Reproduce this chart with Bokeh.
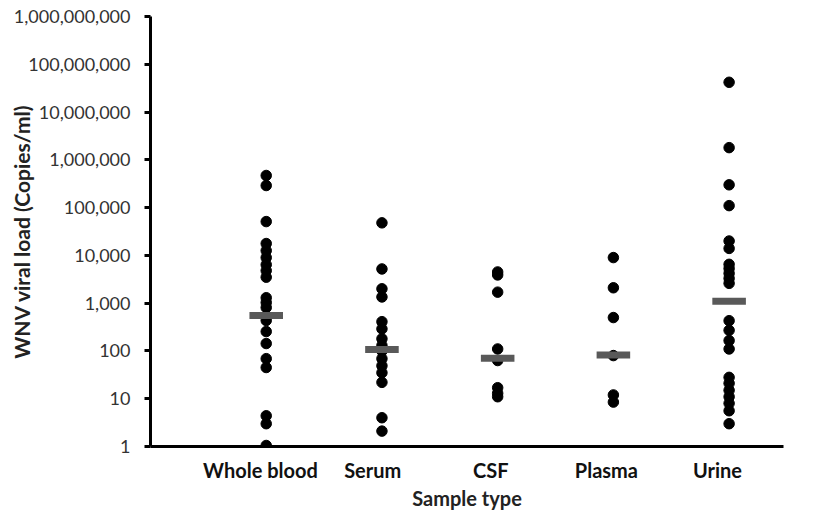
from bokeh.plotting import figure
from bokeh.models import Range1d, FixedTicker, NumeralTickFormatter
from bokeh.embed import file_html
from bokeh.resources import INLINE

categories = ["Whole blood", "Serum", "CSF", "Plasma", "Urine"]
cat_x = [1, 2, 3, 4, 5]
label_x = [0.95, 1.92, 2.94, 3.94, 4.9]

whole_blood = [470000, 290000, 51000, 17700, 12600, 9000, 6400, 4800, 3500,
               1300, 1030, 810, 435, 255, 143, 69, 45, 4.4, 3.0, 1.05]
serum = [48000, 5200, 2000, 1350, 410, 290, 180, 130, 100, 69, 49, 35, 22, 4.0, 2.1]
csf = [4500, 3900, 1700, 110, 63, 17, 13, 11]
plasma = [9000, 2100, 500, 80, 12, 8.5]
urine = [42000000, 1800000, 300000, 110000, 20000, 14000, 6500, 5300, 4200,
         3300, 2600, 430, 270, 165, 110, 28, 21, 15, 11, 8, 5.6, 3.0]
medians = [550, 107, 70, 82, 1100]

y_ticks = [1, 10, 100, 1000, 10000, 100000, 1000000, 10000000, 100000000, 1000000000]

groups = [whole_blood, serum, csf, plasma, urine]
xs, ys = [], []
for cx, vals in zip(cat_x, groups):
    xs += [cx] * len(vals)
    ys += vals

p = figure(width=830, height=512, output_backend="svg", toolbar_location=None,
           y_axis_type="log", x_range=Range1d(0, 5.47), y_range=Range1d(1, 1e9),
           min_border_left=150, min_border_right=47, min_border_top=16, min_border_bottom=66)
p.outline_line_color = None
p.grid.visible = False
p.background_fill_color = "white"

p.scatter(xs, ys, size=10.5, color="black")
p.rect(x=cat_x, y=medians, width=0.29, height=7, height_units="screen",
       fill_color="#595959", line_color=None)

ya = p.yaxis[0]
ya.ticker = FixedTicker(ticks=y_ticks, minor_ticks=[])
ya.formatter = NumeralTickFormatter(format="0,0")
ya.axis_line_width = 3
ya.axis_line_color = "black"
ya.major_tick_line_width = 3
ya.major_tick_out = 6
ya.major_tick_in = 0
ya.minor_tick_line_color = None
ya.major_label_standoff = 14
ya.major_label_text_font = "Lato"
ya.major_label_text_font_size = "18px"
ya.major_label_text_color = "#333333"
ya.axis_label = "WNV viral load (Copies/ml)"
ya.axis_label_standoff = -23
ya.axis_label_text_font = "Lato"
ya.axis_label_text_font_style = "bold"
ya.axis_label_text_font_size = "21px"
ya.axis_label_text_color = "#222222"

xa = p.xaxis[0]
xa.ticker = FixedTicker(ticks=label_x, minor_ticks=[])
xa.major_label_overrides = {lx: c for lx, c in zip(label_x, categories)}
xa.axis_line_width = 3
xa.axis_line_color = "black"
xa.major_tick_line_color = None
xa.minor_tick_line_color = None
xa.major_label_standoff = 5
xa.major_label_text_font = "Lato"
xa.major_label_text_font_style = "bold"
xa.major_label_text_font_size = "20px"
xa.major_label_text_color = "#111111"
xa.axis_label = "Sample type"
xa.axis_label_standoff = 1
xa.axis_label_text_font = "Lato"
xa.axis_label_text_font_style = "bold"
xa.axis_label_text_font_size = "20px"
xa.axis_label_text_color = "#222222"

open("out.html", "w").write(file_html(p, INLINE))
